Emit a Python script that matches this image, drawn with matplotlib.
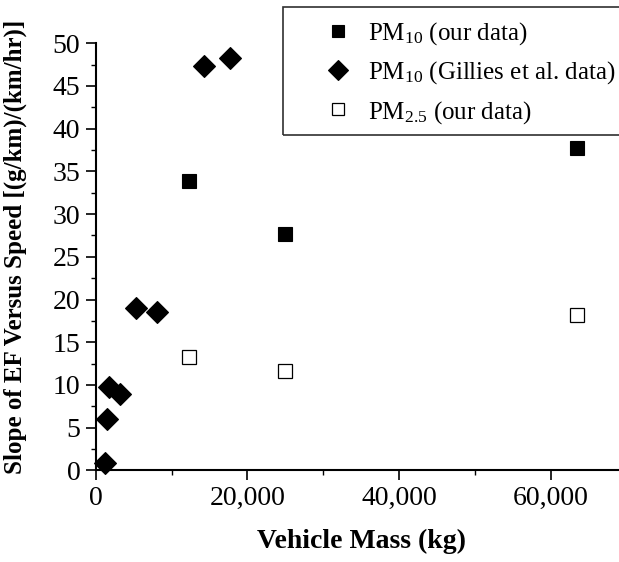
import matplotlib
matplotlib.use("Agg")
import matplotlib.pyplot as plt
from matplotlib.patches import Rectangle
from matplotlib.ticker import FuncFormatter, MultipleLocator

plt.rcParams["font.family"] = ["Liberation Serif", "DejaVu Serif"]
plt.rcParams["mathtext.fontset"] = "custom"
plt.rcParams["mathtext.rm"] = "Liberation Serif"
plt.rcParams["mathtext.it"] = "Liberation Serif:italic"
plt.rcParams["mathtext.bf"] = "Liberation Serif:bold"

# PM10, our measurements
pm10_mass = [12300, 24900, 63400]
pm10_slope = [33.9, 27.7, 37.7]

# PM10 from Gillies et al.
gillies_mass = [1230, 1530, 1790, 3160, 5270, 8040, 14320, 17710]
gillies_slope = [0.8, 6.0, 9.75, 8.95, 19.0, 18.5, 47.4, 48.3]

# PM2.5, our measurements
pm25_mass = [12300, 24900, 63400]
pm25_slope = [13.3, 11.65, 18.15]

W, H = 619, 562
fig = plt.figure(figsize=(W / 100, H / 100), dpi=100)
x0, y0, x1, y1 = 95.7, 470.3, 619.0, 43.3
ax = fig.add_axes([x0 / W, 1 - y0 / H, (x1 - x0) / W, (y0 - y1) / H])

ax.plot(pm10_mass, pm10_slope, ls="none", marker="s", ms=10.5,
        mfc="black", mec="black", mew=0.8, label=r"PM$_{10}$ (our data)", clip_on=False, zorder=3)
ax.plot(gillies_mass, gillies_slope, ls="none", marker="D", ms=11.5,
        mfc="black", mec="black", mew=0.8, label=r"PM$_{10}$ (Gillies et al. data)", clip_on=False, zorder=3)
ax.plot(pm25_mass, pm25_slope, ls="none", marker="s", ms=9.8,
        mfc="white", mec="black", mew=0.9, label=r"PM$_{2.5}$ (our data)", clip_on=False, zorder=3)

ax.set_xlim(0, 69000)
ax.set_ylim(0, 50)
ax.spines["top"].set_visible(False)
ax.spines["right"].set_visible(False)
for s in ("left", "bottom"):
    ax.spines[s].set_linewidth(1.5)

ax.xaxis.set_major_locator(MultipleLocator(20000))
ax.xaxis.set_minor_locator(MultipleLocator(10000))
ax.yaxis.set_major_locator(MultipleLocator(5))
ax.yaxis.set_minor_locator(MultipleLocator(2.5))
ax.xaxis.set_major_formatter(FuncFormatter(lambda v, p: f"{int(v):,}"))
ax.tick_params(which="major", direction="out", length=7, width=1.2, labelsize=20, pad=4)
ax.tick_params(which="minor", direction="out", length=3.5, width=1.0)

ax.set_xlabel("Vehicle Mass (kg)", fontsize=20, fontweight="bold")
ax.set_ylabel("Slope of EF Versus Speed [(g/km)/(km/hr)]", fontsize=18, fontweight="bold")
ax.xaxis.set_label_coords((361.5 - x0) / (x1 - x0), (y0 - 529) / (y0 - y1))
ax.yaxis.set_label_coords((27.5 - x0) / (x1 - x0), (y0 - 246.5) / (y0 - y1))

leg = ax.legend(loc="upper left", bbox_to_anchor=(318 / W, 1 - 20 / H),
                bbox_transform=fig.transFigure, frameon=False, fontsize=18,
                borderpad=0, borderaxespad=0, handlelength=1.6, handletextpad=0.4,
                labelspacing=0.5, numpoints=1, markerscale=0.85)

fig.patches.append(Rectangle((283.3 / W, 1 - 135 / H), (640 - 283.3) / W, (135 - 7.3) / H,
                             transform=fig.transFigure, fill=False, ec="#303030", lw=1.2))

fig.savefig("out.png", dpi=100)
